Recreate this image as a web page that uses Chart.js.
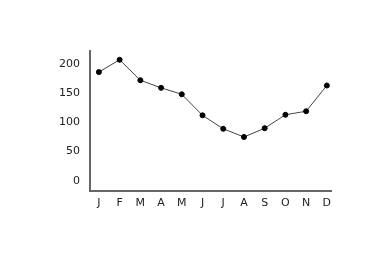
<!DOCTYPE html>
<html>
<head>
<meta charset="utf-8">
<script src="https://cdn.jsdelivr.net/npm/chart.js@4/dist/chart.umd.min.js"></script>
<style>
  html, body { margin: 0; padding: 0; background: #fff; }
  #grafic { display: block; }
</style>
</head>
<body>
<canvas id="grafic" width="388" height="262"></canvas>
<script>
// Etiquetes dels mesos
const mesos = ["J", "F", "M", "A", "M", "J", "J", "A", "S", "O", "N", "D"];
// Valors llegits del gràfic
const valors = [186, 207, 172, 159, 148, 112, 89, 75, 90, 113, 119, 163];
// Ticks de l'eix Y
const ticksY = [0, 50, 100, 150, 200];

// Punts (x = index del mes)
const punts = valors.map((v, i) => ({ x: i, y: v }));

const data = {
  datasets: [{
    data: punts,
    borderColor: '#444',
    borderWidth: 1,
    pointBackgroundColor: '#000',
    pointBorderColor: '#000',
    pointRadius: 2.5,
    tension: 0
  }]
};

const config = {
  type: 'line',
  data: data,
  options: {
    responsive: false,
    animation: false,
    layout: { padding: { left: 49, top: 51, right: 57, bottom: 46 } },
    plugins: { legend: { display: false }, tooltip: { enabled: false } },
    scales: {
      x: {
        type: 'linear',
        min: -0.43,
        max: 11.2,
        afterBuildTicks: (axis) => { axis.ticks = mesos.map((m, i) => ({ value: i })); },
        ticks: {
          autoSkip: false,
          maxRotation: 0,
          padding: 6,
          color: '#222',
          font: { family: 'DejaVu Sans', size: 11 },
          callback: (v) => mesos[v]
        },
        grid: { display: false, drawTicks: false },
        border: { display: true, color: '#666', width: 2 }
      },
      y: {
        min: -17,
        max: 222,
        afterBuildTicks: (axis) => { axis.ticks = ticksY.map(v => ({ value: v })); },
        ticks: {
          padding: 10,
          color: '#222',
          font: { family: 'DejaVu Sans', size: 11 }
        },
        grid: { display: false, drawTicks: false },
        border: { display: true, color: '#666', width: 2 }
      }
    }
  }
};

new Chart(document.getElementById('grafic'), config);
</script>
</body>
</html>
